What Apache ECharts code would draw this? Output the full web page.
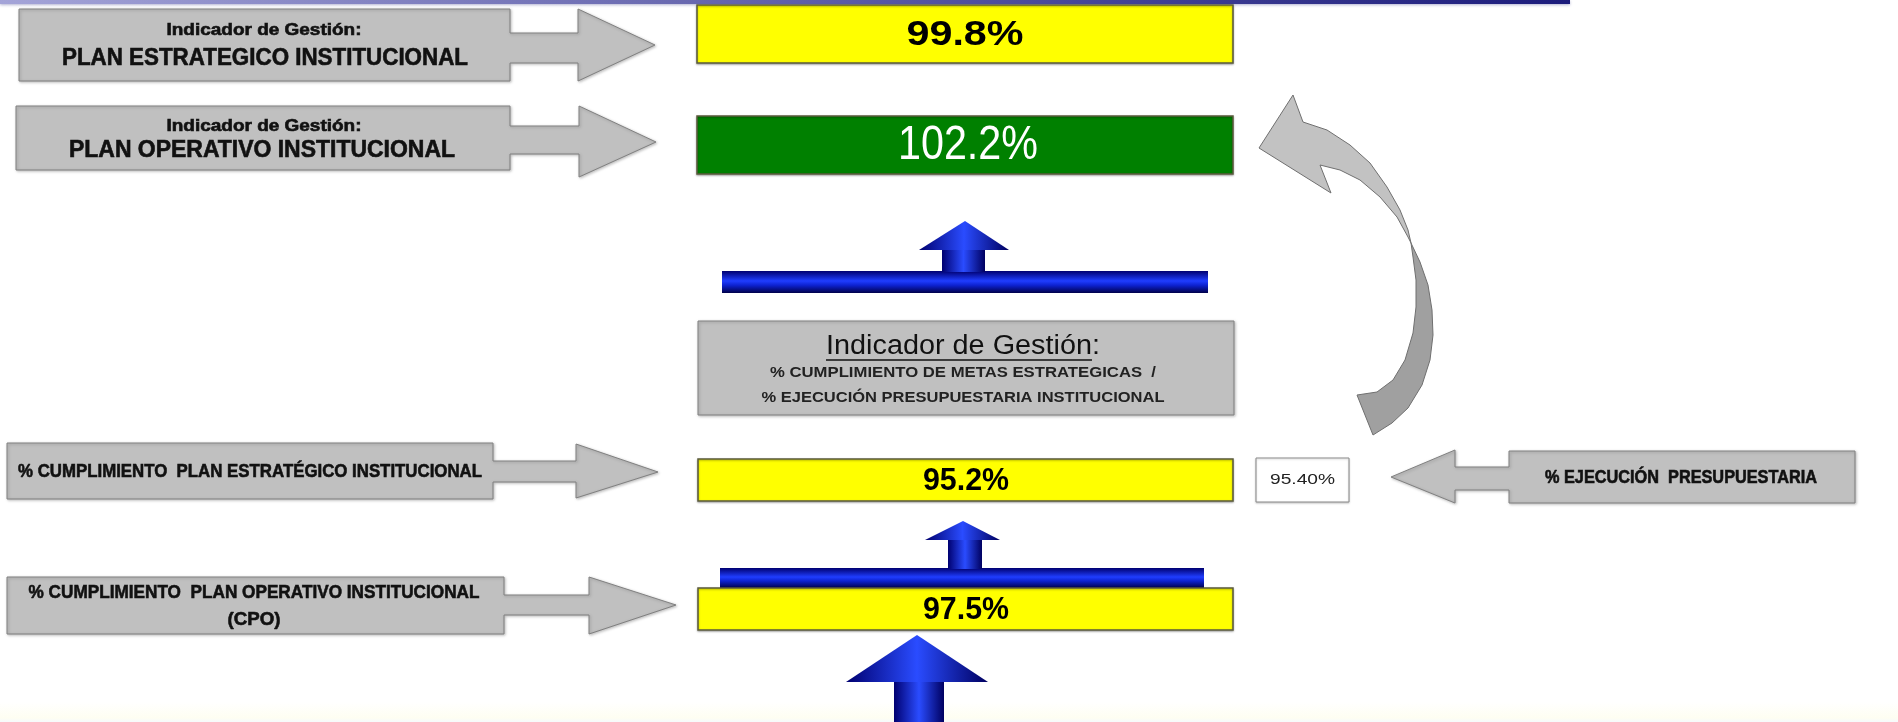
<!DOCTYPE html>
<html>
<head>
<meta charset="utf-8">
<script src="https://cdn.jsdelivr.net/npm/echarts@6/dist/echarts.min.js"></script>
<style>
html, body { margin: 0; padding: 0; background: #fff; }
#main { width: 1898px; height: 722px; }
</style>
</head>
<body>
<div id="main"></div>
<script>
// indicadores de gestión (cajas de arriba)
const indicatorTitles = ['PLAN ESTRATEGICO INSTITUCIONAL', 'PLAN OPERATIVO INSTITUCIONAL'];
const indicatorValues = [99.8, 102.2];
// cumplimiento de los planes (cajas de abajo)
const complianceLabels = ['% CUMPLIMIENTO  PLAN ESTRATÉGICO INSTITUCIONAL', '% CUMPLIMIENTO  PLAN OPERATIVO INSTITUCIONAL\n(CPO)'];
const complianceValues = [95.2, 97.5];
// ejecución presupuestaria
const budgetLabel = '% EJECUCIÓN  PRESUPUESTARIA';
const budgetValue = 95.40;
// caja central
const centerTitle = 'Indicador de Gestión';
const centerLines = ['% CUMPLIMIENTO DE METAS ESTRATEGICAS  /', '% EJECUCIÓN PRESUPUESTARIA INSTITUCIONAL'];

// ---- layout del diagrama (ejes ocultos 0..1898 x 0..722) ----
const SANS = '"Liberation Sans", Arial, sans-serif';

// r = [x0, x1, y0, y1]; w = ancho del texto
const valueBoxLayout = [
    { r: [697, 1233, 5, 63], font: 'bold 35px ' + SANS, w: 117, cx: 965 },
    { r: [697, 1233, 116, 174], font: '48px ' + SANS, w: 140, cx: 968 },
    { r: [698, 1233, 459, 501], font: 'bold 32px ' + SANS, w: 86, cx: 966 },
    { r: [698, 1233, 588, 630], font: 'bold 32px ' + SANS, w: 86, cx: 966 }
];
const grayArrowLayout = [
    { body: [19, 510, 9, 81], stem: [33, 63], head: [578, 9, 81], tip: [655, 45] },
    { body: [16, 510, 106, 170], stem: [126, 154], head: [579, 106, 177], tip: [656, 142] },
    { body: [7, 493, 443, 499], stem: [461, 482], head: [576, 444, 498], tip: [658, 472] },
    { body: [7, 504, 577, 634], stem: [595, 615], head: [589, 577, 634], tip: [676, 605] }
];
// posición y ancho de cada línea de texto de las flechas grises
const grayTextLayout = [
    [{ x: 264, y: 31, w: 195, font: 'bold 16px ' + SANS }, { x: 265, y: 59, w: 406, font: 'bold 23px ' + SANS }],
    [{ x: 264, y: 127, w: 195, font: 'bold 16px ' + SANS }, { x: 262, y: 151, w: 386, font: 'bold 23px ' + SANS }],
    [{ x: 250, y: 472, w: 464, font: 'bold 19px ' + SANS }],
    [{ x: 254, y: 593, w: 451, font: 'bold 19px ' + SANS }, { x: 254, y: 620, w: 53, font: 'bold 19px ' + SANS }]
];
const budgetArrowLayout = { body: [1855, 1509, 451, 503], stem: [467, 490], head: [1455, 450, 503], tip: [1391, 477], cx: 1681, y: 478, w: 272 };
const budgetBoxLayout = { r: [1256, 1349, 458, 502], w: 65 };
const blueArrowLayout = [
    { bar: [722, 1208, 271, 293], stem: [942, 985, 249, 272], head: [919, 1009, 250], tip: [965, 221] },
    { bar: [720, 1204, 568, 588], stem: [948, 982, 540, 569], head: [925, 1000, 540], tip: [963, 521] },
    { bar: null, stem: [894, 944, 681, 722], head: [846, 988, 682], tip: [917, 635] }
];
const centerBoxLayout = { r: [698, 1234, 321, 415], cx: 963, ys: [347, 373, 398], ws: [274, 386, 403] };
const curveLight = [[1293, 95], [1303, 122], [1327, 130], [1350, 145], [1370, 163], [1387, 187], [1400, 210], [1408, 230], [1411, 243],
    [1408, 237], [1397, 217], [1380, 197], [1360, 180], [1340, 170], [1320, 165], [1331, 193], [1259, 148]];
const curveDark = [[1411, 243], [1420, 262], [1428, 285], [1432, 310], [1433, 335], [1430, 360], [1422, 385], [1408, 408], [1392, 423], [1373, 435],
    [1357, 395], [1377, 392], [1393, 380], [1405, 360], [1413, 333], [1416, 307], [1416, 280], [1413, 257]];

const chart = echarts.init(document.getElementById('main'));
const measure = document.createElement('canvas').getContext('2d');
function textWidth(str, font) { measure.font = font; return measure.measureText(str).width; }

function rectShape(api, r) {
    const p0 = api.coord([r[0], r[2]]);
    const p1 = api.coord([r[1], r[3]]);
    return { x: p0[0], y: p0[1], width: p1[0] - p0[0], height: p1[1] - p0[1] };
}
function pts(api, list) { return list.map(p => api.coord(p)); }
function blockArrow(a) {
    const [bx0, bx1, by0, by1] = a.body, [sy0, sy1] = a.stem, [hx, hy0, hy1] = a.head, [tx, ty] = a.tip;
    return [[bx0, by0], [bx1, by0], [bx1, sy0], [hx, sy0], [hx, hy0], [tx, ty], [hx, hy1], [hx, sy1], [bx1, sy1], [bx1, by1], [bx0, by1]];
}
// texto centrado, estirado/encogido en horizontal para ocupar el ancho w
function label(api, x, y, text, font, fill, w, heavy) {
    const p = api.coord([x, y]);
    const s = w ? (api.size([w, 0])[0] / textWidth(text, font)) : 1;
    const style = { text: text, font: font, fill: fill || '#000', align: 'center', verticalAlign: 'middle' };
    if (heavy) { style.stroke = fill; style.lineWidth = heavy; }
    return { type: 'text', x: p[0], y: p[1], scaleX: s, style: style };
}
const grayStyle = { fill: '#c0c0c0', stroke: '#808080', lineWidth: 1, shadowBlur: 3, shadowColor: 'rgba(0,0,0,0.25)', shadowOffsetX: 1, shadowOffsetY: 1 };
const blueV = () => new echarts.graphic.LinearGradient(0, 0, 0, 1, [
    { offset: 0, color: '#000070' }, { offset: 0.45, color: '#1f3dff' }, { offset: 0.65, color: '#0d22d0' }, { offset: 1, color: '#00004a' }]);
const blueH = () => new echarts.graphic.LinearGradient(0, 0, 1, 0, [
    { offset: 0, color: '#000070' }, { offset: 0.5, color: '#2a4cff' }, { offset: 1, color: '#000060' }]);

// textos de las flechas grises de la izquierda
const grayArrowTexts = [
    ['Indicador de Gestión:', indicatorTitles[0]],
    ['Indicador de Gestión:', indicatorTitles[1]],
    [complianceLabels[0]],
    complianceLabels[1].split('\n')
];

const allValues = indicatorValues.concat(complianceValues);

chart.setOption({
    animation: false,
    grid: { left: 0, right: 0, top: 0, bottom: 0 },
    xAxis: { type: 'value', min: 0, max: 1898, show: false },
    yAxis: { type: 'value', min: 0, max: 722, inverse: true, show: false },
    series: [
        {
            // franja superior y fondo inferior
            type: 'custom', z: 1, data: [[0, 0]],
            renderItem: (params, api) => ({
                type: 'group', children: [
                    { type: 'rect', shape: rectShape(api, [0, 1898, 702, 722]), style: { fill: new echarts.graphic.LinearGradient(0, 0, 0, 1, [{ offset: 0, color: '#ffffff' }, { offset: 0.8, color: '#fefef2' }, { offset: 1, color: '#f6fafc' }]) } },
                    { type: 'rect', shape: rectShape(api, [0, 1570, 0, 4]), style: { fill: new echarts.graphic.LinearGradient(0, 0, 1, 0, [{ offset: 0, color: '#a4a4d8' }, { offset: 1, color: '#1c1c7c' }]), shadowBlur: 3, shadowColor: 'rgba(60,60,140,0.4)', shadowOffsetY: 1 } }
                ]
            })
        },
        {
            // flechas grises con sus textos
            type: 'custom', z: 2, data: grayArrowLayout.map((a, i) => [i, 0]),
            renderItem: (params, api) => {
                const i = params.dataIndex;
                const children = [{ type: 'polygon', shape: { points: pts(api, blockArrow(grayArrowLayout[i])) }, style: grayStyle }];
                grayArrowTexts[i].forEach((t, k) => {
                    const L = grayTextLayout[i][k];
                    children.push(label(api, L.x, L.y, t, L.font, '#111', L.w, 0.6));
                });
                return { type: 'group', children: children };
            }
        },
        {
            // ejecución presupuestaria
            type: 'custom', z: 3, data: [[budgetValue, 0]],
            renderItem: (params, api) => {
                const b = budgetBoxLayout.r;
                return {
                    type: 'group', children: [
                        { type: 'polygon', shape: { points: pts(api, blockArrow(budgetArrowLayout)) }, style: grayStyle },
                        label(api, budgetArrowLayout.cx, budgetArrowLayout.y, budgetLabel, 'bold 18px ' + SANS, '#111', budgetArrowLayout.w, 0.6),
                        { type: 'rect', shape: rectShape(api, b), style: { fill: '#fff', stroke: '#8a8a8a', lineWidth: 1, shadowBlur: 2, shadowColor: 'rgba(0,0,0,0.2)', shadowOffsetY: 1 } },
                        label(api, (b[0] + b[1]) / 2, (b[2] + b[3]) / 2, budgetValue.toFixed(2) + '%', '15px ' + SANS, '#222', budgetBoxLayout.w)
                    ]
                };
            }
        },
        {
            // flecha curva
            type: 'custom', z: 4, data: [[0, 0]],
            renderItem: (params, api) => ({
                type: 'group', children: [
                    { type: 'polygon', shape: { points: pts(api, curveDark) }, style: { fill: '#a0a0a0', stroke: '#6f6f6f', lineWidth: 1 } },
                    { type: 'polygon', shape: { points: pts(api, curveLight) }, style: { fill: '#c2c2c2', stroke: '#6f6f6f', lineWidth: 1 } }
                ]
            })
        },
        {
            // flechas azules
            type: 'custom', z: 5, data: blueArrowLayout.map((a, i) => [i, 0]),
            renderItem: (params, api) => {
                const a = blueArrowLayout[params.dataIndex];
                const children = [];
                if (a.bar) children.push({ type: 'rect', shape: rectShape(api, a.bar), style: { fill: blueV() } });
                children.push({ type: 'rect', shape: rectShape(api, a.stem), style: { fill: blueH() } });
                children.push({ type: 'polygon', shape: { points: pts(api, [[a.head[0], a.head[2]], a.tip, [a.head[1], a.head[2]]]) }, style: { fill: blueH() } });
                return { type: 'group', children: children };
            }
        },
        {
            // caja central
            type: 'custom', z: 6, data: [[0, 0]],
            renderItem: (params, api) => {
                const b = centerBoxLayout;
                const titleFont = '27px ' + SANS;
                const full = centerTitle + ':';
                const s = b.ws[0] / textWidth(full, titleFont);
                const left = api.coord([b.cx - b.ws[0] / 2, 0])[0];
                const wt = textWidth(centerTitle, titleFont) * s;
                const uy = api.coord([0, b.ys[0] + 13])[1];
                return {
                    type: 'group', children: [
                        { type: 'rect', shape: rectShape(api, b.r), style: grayStyle },
                        label(api, b.cx, b.ys[0], full, titleFont, '#111', b.ws[0]),
                        { type: 'line', shape: { x1: left, y1: uy, x2: left + wt, y2: uy }, style: { stroke: '#111', lineWidth: 1.5 } },
                        label(api, b.cx, b.ys[1], centerLines[0], 'bold 15px ' + SANS, '#222', b.ws[1]),
                        label(api, b.cx, b.ys[2], centerLines[1], 'bold 15px ' + SANS, '#222', b.ws[2])
                    ]
                };
            }
        },
        {
            // cajas con los porcentajes
            type: 'custom', z: 7, data: allValues.map((v, i) => [i, v]),
            renderItem: (params, api) => {
                const L = valueBoxLayout[params.dataIndex];
                const v = allValues[params.dataIndex];
                const good = v > 100;
                const r = L.r;
                return {
                    type: 'group', children: [
                        { type: 'rect', shape: rectShape(api, r), style: { fill: good ? '#008000' : '#ffff00', stroke: '#5b5b3c', lineWidth: 1.5, shadowBlur: 2, shadowColor: 'rgba(0,0,0,0.3)', shadowOffsetY: 1 } },
                        label(api, L.cx, (r[2] + r[3]) / 2 + 1, v.toFixed(1) + '%', L.font, good ? '#fff' : '#000', L.w)
                    ]
                };
            }
        }
    ]
});
</script>
</body>
</html>
